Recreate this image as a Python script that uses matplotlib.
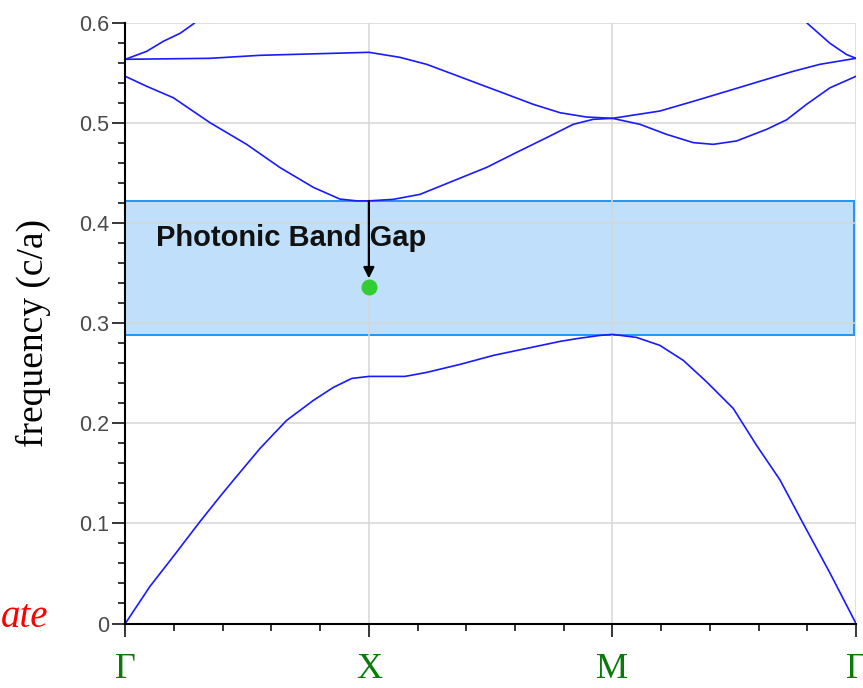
import matplotlib
matplotlib.use("Agg")
import matplotlib.pyplot as plt
from matplotlib.patches import Rectangle
from matplotlib.ticker import MultipleLocator

# pontos de alta simetria (espaçamento igual no eixo k)
k_labels = ["Γ", "X", "M", "Γ"]
k_pos = [0, 1, 2, 3]

# banda 1 (a mais baixa)
x1 = [0, 0.101, 0.197, 0.307, 0.389, 0.450, 0.553, 0.662, 0.772, 0.854, 0.93, 1.0,
      1.148, 1.237, 1.374, 1.511, 1.648, 1.785, 1.860, 1.949, 2.0,
      2.099, 2.195, 2.291, 2.387, 2.496, 2.592, 2.688, 2.783, 2.893, 3.0]
y1 = [0, 0.037, 0.067, 0.102, 0.127, 0.145, 0.175, 0.203, 0.223, 0.236, 0.245, 0.247,
      0.247, 0.251, 0.259, 0.268, 0.275, 0.282, 0.285, 0.288, 0.289,
      0.286, 0.278, 0.263, 0.2415, 0.215, 0.178, 0.1435, 0.100, 0.0505, 0.0]

# banda 2
x2 = [0, 0.088, 0.197, 0.348, 0.498, 0.635, 0.772, 0.881, 0.950, 1.0,
      1.10, 1.21, 1.347, 1.484, 1.607, 1.730, 1.839, 1.921, 2.0,
      2.113, 2.222, 2.332, 2.414, 2.510, 2.633, 2.715, 2.797, 2.893, 3.0]
y2 = [0.547, 0.537, 0.5256, 0.5006, 0.479, 0.4558, 0.436, 0.4243, 0.4225, 0.4225,
      0.424, 0.429, 0.4425, 0.456, 0.471, 0.4857, 0.499, 0.504, 0.505,
      0.499, 0.489, 0.4807, 0.479, 0.4824, 0.494, 0.5035, 0.519, 0.5355, 0.547]

# banda 3
x3 = [0, 0.348, 0.553, 0.854, 1.0, 1.127, 1.237, 1.347, 1.456, 1.566, 1.675,
      1.785, 1.894, 2.0, 2.195, 2.332, 2.469, 2.605, 2.742, 2.852, 3.0]
y3 = [0.564, 0.565, 0.568, 0.570, 0.571, 0.566, 0.559, 0.549, 0.539, 0.529, 0.519,
      0.5106, 0.5063, 0.505, 0.5123, 0.522, 0.532, 0.542, 0.552, 0.559, 0.565]

# banda 4 (só aparece perto de Γ)
x4a = [0, 0.088, 0.156, 0.225, 0.283]
y4a = [0.564, 0.572, 0.582, 0.590, 0.600]
x4b = [2.80, 2.893, 2.961, 3.0]
y4b = [0.600, 0.580, 0.5688, 0.565]

# gap fotônico e ponto marcado
gap_lo = 0.288
gap_hi = 0.4225
gap_right = 2.99
dot_k = 1.0
dot_f = 0.336
arrow_end = 0.345

fig = plt.figure(figsize=(8.63, 6.88), dpi=100)
ax = fig.add_axes([125.3/863, 1 - 623.5/688, (856 - 125.3)/863, (623.5 - 23.3)/688])

# retângulo do gap (atrás da grade)
ax.add_patch(Rectangle((0, gap_lo), gap_right, gap_hi - gap_lo,
                       facecolor="#BFDFFA", edgecolor="#2196F3", linewidth=1.4, zorder=0.3))

for xs, ys in [(x1, y1), (x2, y2), (x3, y3), (x4a, y4a), (x4b, y4b)]:
    ax.plot(xs, ys, color="#1a1aff", linewidth=1.2, zorder=3)

ax.annotate("", xy=(dot_k, arrow_end), xytext=(dot_k, gap_hi),
            arrowprops=dict(arrowstyle="-|>", color="black", lw=1.6, mutation_scale=16,
                            shrinkA=0, shrinkB=0), zorder=4)
ax.plot([dot_k], [dot_f], "o", color="#33CC33", markersize=10.5, zorder=5)

ax.text(0.125, 0.385, "Photonic Band Gap", fontsize=21, fontweight="bold",
        family="Liberation Sans", color="#111111", va="center", ha="left", zorder=4)

ax.set_xlim(0, 3)
ax.set_ylim(0, 0.6)
ax.set_axisbelow(True)
ax.grid(True, color="#D6D6D6", linewidth=1.1)

ax.set_xticks(k_pos)
ax.set_xticklabels(k_labels, family="Liberation Serif", fontsize=26, color="#0A7A0A")
ax.xaxis.set_minor_locator(MultipleLocator(0.2))
ax.set_yticks([0, 0.1, 0.2, 0.3, 0.4, 0.5, 0.6])
ax.set_yticklabels(["0", "0.1", "0.2", "0.3", "0.4", "0.5", "0.6"],
                   family="Liberation Sans", fontsize=15.5, color="#4a4a4a")
ax.yaxis.set_minor_locator(MultipleLocator(0.02))

ax.tick_params(axis="both", which="major", length=9.5, width=1.1, color="black", direction="out")
ax.tick_params(axis="both", which="minor", length=5, width=1.1, color="black", direction="out")
ax.tick_params(axis="x", which="major", pad=12)
ax.tick_params(axis="y", which="major", pad=2)

ax.spines["top"].set_visible(False)
ax.spines["right"].set_visible(False)
ax.spines["left"].set_linewidth(1.5)
ax.spines["bottom"].set_linewidth(1.5)
for sp in ["left", "bottom"]:
    ax.spines[sp].set_zorder(6)

fig.text(33/863, 1 - 333/688, "frequency (c/a)", rotation=90, ha="center", va="center",
         family="Liberation Serif", fontsize=27)
fig.text(48/863, 1 - 627/688, "ate", ha="right", va="baseline",
         family="Liberation Serif", style="italic", fontsize=28, color="red")

plt.savefig("out.png", dpi=100)
plt.close()
